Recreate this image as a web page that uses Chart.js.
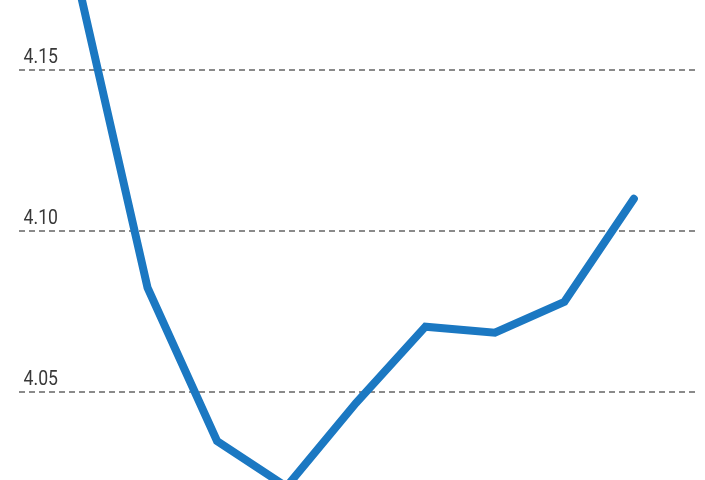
<!DOCTYPE html>
<html>
<head>
<meta charset="utf-8">
<script src="https://cdn.jsdelivr.net/npm/chart.js@4"></script>
<style>
  html, body { margin: 0; padding: 0; background: #fff; }
  #wrap { width: 705px; height: 480px; }
</style>
</head>
<body>
<div id="wrap"><canvas id="lineChart"></canvas></div>
<script>
// Values (x positions are just the point order)
const pointIndex = [0, 1, 2, 3, 4, 5, 6, 7, 8];
const seriesValues = [4.177, 4.0824, 4.0348, 4.0206, 4.0466, 4.0703, 4.0684, 4.078, 4.110];
const tickValues = [4.05, 4.10, 4.15];

// y labels sit above their gridline, right-aligned, slightly narrow type
const gridLabels = {
    id: 'gridLabels',
    afterDraw(chart) {
        const { ctx, scales } = chart;
        ctx.save();
        ctx.fillStyle = '#383838';
        ctx.font = "21px Roboto, sans-serif";
        ctx.textAlign = 'right';
        ctx.textBaseline = 'alphabetic';
        tickValues.forEach((v) => {
            const y = scales.y.getPixelForValue(v);
            ctx.save();
            ctx.translate(58, y - 7);
            ctx.scale(0.84, 1);
            ctx.fillText(v.toFixed(2), 0, 0);
            ctx.restore();
        });
        ctx.restore();
    }
};

const lineCanvas = document.getElementById('lineChart');
new Chart(lineCanvas, {
    type: 'line',
    data: {
        datasets: [{
            data: pointIndex.map((i, k) => ({ x: i, y: seriesValues[k] })),
            borderColor: '#1b78c2',
            borderWidth: 8,
            borderCapStyle: 'round',
            borderJoinStyle: 'miter',
            pointRadius: 0,
            tension: 0
        }]
    },
    options: {
        responsive: true,
        maintainAspectRatio: false,
        animation: false,
        layout: { padding: { left: 19, right: 10, top: 0, bottom: 0 } },
        plugins: {
            legend: { display: false },
            tooltip: { enabled: false }
        },
        scales: {
            x: {
                type: 'linear',
                display: false,
                min: -0.85,
                max: 8.88
            },
            y: {
                min: 4.0227,
                max: 4.1717,
                afterBuildTicks: (axis) => {
                    axis.ticks = tickValues.map((v) => ({ value: v }));
                },
                grid: {
                    drawTicks: false,
                    color: '#8a8a8a',
                    lineWidth: 2
                },
                border: { display: false, dash: [6, 4] },
                ticks: { display: false }
            }
        }
    },
    plugins: [gridLabels]
});
</script>
</body>
</html>
